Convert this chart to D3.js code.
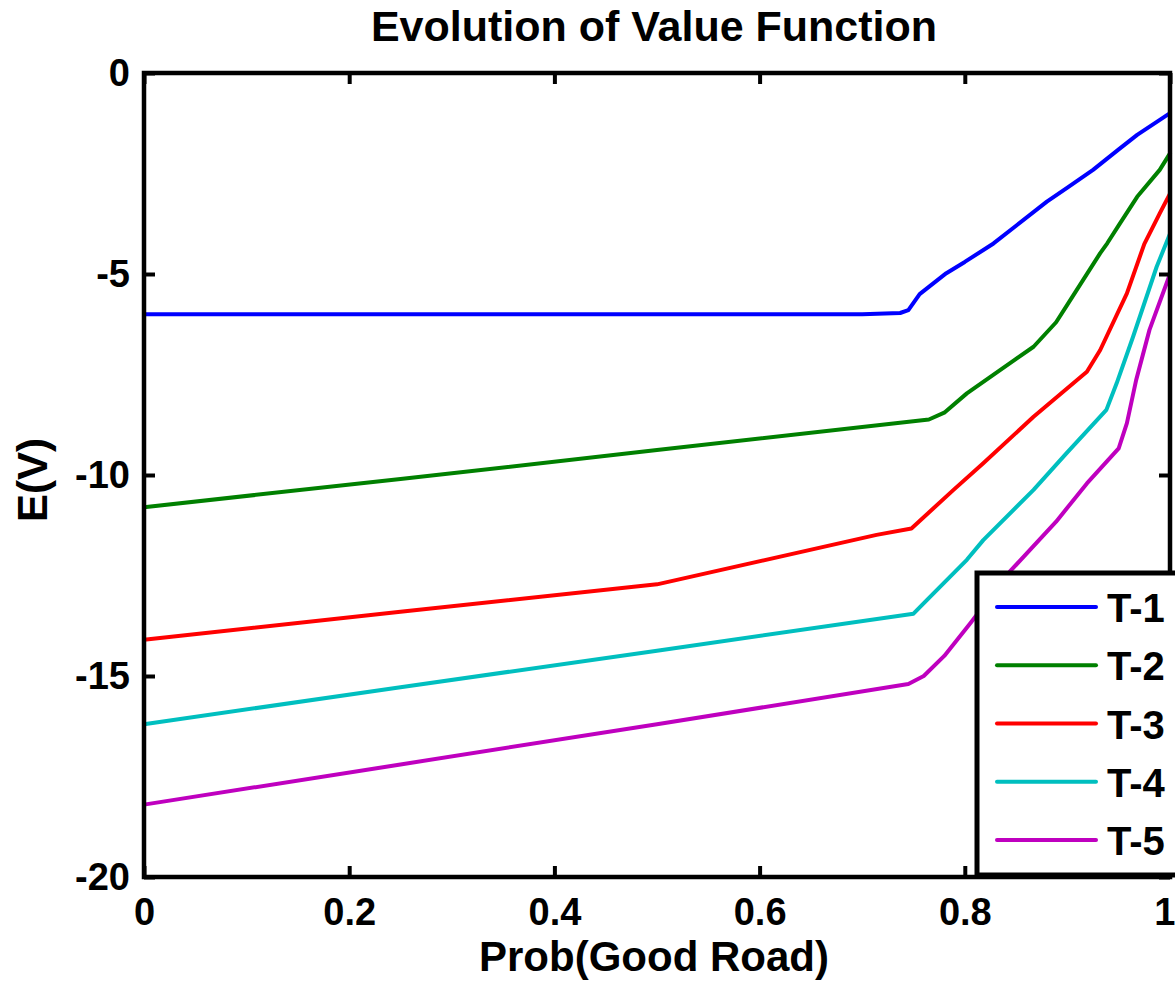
<!DOCTYPE html>
<html>
<head>
<meta charset="utf-8">
<script src="https://cdn.jsdelivr.net/npm/d3@7"></script>
<style>
  body { margin: 0; background: #fff; }
  text { font-family: "Liberation Sans", Arial, sans-serif; font-weight: bold; fill: #000; }
</style>
</head>
<body>
<script>
// chart data
const seriesNames = ["T-1", "T-2", "T-3", "T-4", "T-5"];
const seriesColors = ["#0000ff", "#008000", "#ff0000", "#00bfbf", "#bf00bf"];

const probT1 = [0, 0.25, 0.5, 0.7, 0.737, 0.745, 0.756, 0.782, 0.8, 0.828, 0.85, 0.88, 0.9, 0.925, 0.95, 0.968, 1];
const valT1  = [-6.0, -6.0, -6.0, -6.0, -5.97, -5.9, -5.5, -4.98, -4.7, -4.24, -3.8, -3.2, -2.85, -2.41, -1.9, -1.54, -1.0];

const probT2 = [0, 0.25, 0.5, 0.765, 0.78, 0.802, 0.85, 0.867, 0.889, 0.9, 0.932, 0.939, 0.95, 0.968, 0.99, 1];
const valT2  = [-10.8, -10.1, -9.38, -8.62, -8.45, -7.97, -7.11, -6.81, -6.2, -5.76, -4.48, -4.23, -3.79, -3.08, -2.41, -2.0];

const probT3 = [0, 0.25, 0.5, 0.714, 0.748, 0.789, 0.818, 0.867, 0.919, 0.932, 0.958, 0.975, 0.99, 1];
const valT3  = [-14.1, -13.4, -12.72, -11.49, -11.33, -10.37, -9.71, -8.55, -7.43, -6.89, -5.48, -4.25, -3.49, -3.0];

const probT4 = [0, 0.25, 0.5, 0.75, 0.763, 0.802, 0.818, 0.867, 0.899, 0.938, 0.948, 0.964, 0.987, 1];
const valT4  = [-16.2, -15.28, -14.37, -13.45, -13.11, -12.11, -11.62, -10.37, -9.46, -8.38, -7.72, -6.56, -4.82, -4.0];

const probT5 = [0, 0.25, 0.5, 0.745, 0.76, 0.78, 0.805, 0.844, 0.889, 0.919, 0.95, 0.958, 0.967, 0.98, 1];
const valT5  = [-18.2, -17.2, -16.2, -15.2, -15.0, -14.5, -13.7, -12.4, -11.16, -10.21, -9.34, -8.71, -7.64, -6.39, -5.0];

const xTicks = [0, 0.2, 0.4, 0.6, 0.8, 1];
const yTicks = [0, -5, -10, -15, -20];

const allProb = [probT1, probT2, probT3, probT4, probT5];
const allVal = [valT1, valT2, valT3, valT4, valT5];

const width = 1175, height = 984;
const plotL = 144, plotR = 1170, plotT = 73, plotB = 877;

const svg = d3.select("body").append("svg")
  .attr("width", width)
  .attr("height", height);

const x = d3.scaleLinear().domain([0, 1]).range([plotL, plotR]);
const y = d3.scaleLinear().domain([-20, 0]).range([plotB, plotT]);

// lines
const line = d3.line()
  .x(d => x(d[0]))
  .y(d => y(d[1]));

seriesNames.forEach((name, i) => {
  const pts = allProb[i].map((p, j) => [p, allVal[i][j]]);
  svg.append("path")
    .datum(pts)
    .attr("fill", "none")
    .attr("stroke", seriesColors[i])
    .attr("stroke-width", 4)
    .attr("stroke-linejoin", "round")
    .attr("stroke-linecap", "round")
    .attr("d", line);
});

// axes box with inward ticks on all four sides
const fmt = d => String(d);

const gBottom = svg.append("g").attr("transform", `translate(0,${plotB})`)
  .call(d3.axisBottom(x).tickValues(xTicks).tickFormat(fmt).tickSizeInner(-11).tickSizeOuter(0).tickPadding(21));
const gTop = svg.append("g").attr("transform", `translate(0,${plotT})`)
  .call(d3.axisTop(x).tickValues(xTicks).tickFormat("").tickSizeInner(-11).tickSizeOuter(0));
const gLeft = svg.append("g").attr("transform", `translate(${plotL},0)`)
  .call(d3.axisLeft(y).tickValues(yTicks).tickFormat(fmt).tickSizeInner(-11).tickSizeOuter(0).tickPadding(14));
const gRight = svg.append("g").attr("transform", `translate(${plotR},0)`)
  .call(d3.axisRight(y).tickValues(yTicks).tickFormat("").tickSizeInner(-11).tickSizeOuter(0));

[gBottom, gTop, gLeft, gRight].forEach(g => {
  g.select(".domain").remove();
  g.selectAll(".tick line").attr("stroke", "#000").attr("stroke-width", 4);
  g.selectAll("text").attr("font-size", 38).attr("fill", "#000")
    .style("font-family", "'Liberation Sans', Arial, sans-serif").style("font-weight", "bold");
});

// the "1" label sits at the right edge; keep it inside the page
gBottom.selectAll(".tick text").filter(d => d === 1).attr("text-anchor", "end").attr("x", 5);

svg.append("rect")
  .attr("x", plotL).attr("y", plotT)
  .attr("width", plotR - plotL).attr("height", plotB - plotT)
  .attr("fill", "none")
  .attr("stroke", "#000")
  .attr("stroke-width", 4.5);

// title and axis labels
svg.append("text")
  .attr("x", 654).attr("y", 41)
  .attr("text-anchor", "middle")
  .attr("font-size", 43)
  .text("Evolution of Value Function");

svg.append("text")
  .attr("x", 654).attr("y", 971)
  .attr("text-anchor", "middle")
  .attr("font-size", 42)
  .text("Prob(Good Road)");

svg.append("text")
  .attr("transform", "translate(47,480) rotate(-90)")
  .attr("text-anchor", "middle")
  .attr("font-size", 42)
  .text("E(V)");

// legend
const legend = svg.append("g");
legend.append("rect")
  .attr("x", 977).attr("y", 573)
  .attr("width", 220).attr("height", 302)
  .attr("fill", "#fff")
  .attr("stroke", "#000")
  .attr("stroke-width", 5);

const rowY = d3.scalePoint().domain(seriesNames).range([607, 840]);

legend.selectAll("line.key")
  .data(seriesNames)
  .enter()
  .append("line")
    .attr("x1", 997).attr("x2", 1096)
    .attr("y1", d => rowY(d)).attr("y2", d => rowY(d))
    .attr("stroke", (d, i) => seriesColors[i])
    .attr("stroke-width", 4)
    .attr("stroke-linecap", "round");

legend.selectAll("text.key")
  .data(seriesNames)
  .enter()
  .append("text")
    .attr("x", 1107)
    .attr("y", d => rowY(d) + 15)
    .attr("font-size", 40)
    .text(d => d);
</script>
</body>
</html>
